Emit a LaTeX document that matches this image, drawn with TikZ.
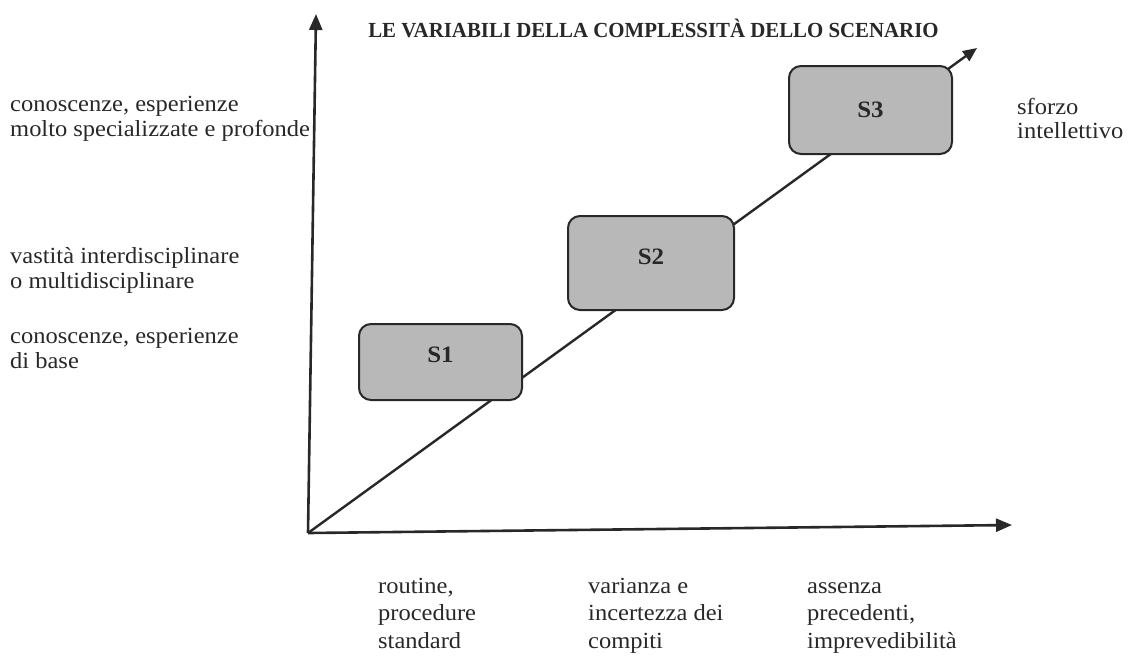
\documentclass[tikz,border=0pt]{standalone}
\usepackage{fontspec}
\setmainfont[FakeStretch=1.06]{Liberation Serif}
\newfontfamily\titlefam[FakeStretch=0.97]{Liberation Serif}
\usetikzlibrary{arrows.meta}
\definecolor{boxgray}{RGB}{184,184,184}
\definecolor{inkgray}{RGB}{40,40,40}
\begin{document}
\begin{tikzpicture}[x=1pt,y=-1pt,
  axis/.style={line width=2.6pt, draw=inkgray, -{Triangle[length=16pt,width=13pt]}},
  diag/.style={line width=2.4pt, draw=inkgray, -{Triangle[length=14pt,width=12pt]}},
  stepbox/.style={draw=inkgray, line width=2pt, fill=boxgray, rounded corners=12pt,
    inner sep=0pt, font=\bfseries\fontsize{23.5}{23.5}\selectfont, text=inkgray},
  lbl/.style={anchor=base west, align=left, inner sep=0pt, text=inkgray,
    font=\fontsize{23.1}{24.5}\selectfont},
  lblb/.style={lbl, font=\fontsize{23.1}{27.5}\selectfont},
  titlefont/.style={font=\titlefam\bfseries\fontsize{21.5}{21.5}\selectfont, text=inkgray, inner sep=0pt}
]
\useasboundingbox (0,0) rectangle (1129,657);
\fill[white] (0,0) rectangle (1129,657);

\coordinate (O) at (308,533);
\coordinate (ytip) at (316,14);
\coordinate (xtip) at (1012,525);
\coordinate (dtip) at (977,48);

\draw[axis] (O) -- (ytip);
\draw[axis] (O) -- (xtip);
\draw[diag] (O) -- (dtip);

\node[stepbox, minimum width=163pt, minimum height=76pt, text depth=14pt] (s1) at (440.5,362) {S1};
\node[stepbox, minimum width=166pt, minimum height=94pt, text depth=12pt] (s2) at (651,263) {S2};
\node[stepbox, minimum width=163pt, minimum height=88pt] (s3) at (870.5,110) {S3};

\node[titlefont, anchor=base] (title) at (653.5,37) {LE VARIABILI DELLA COMPLESSITÀ DELLO SCENARIO};

% base anchor of a multi-line node = baseline of its last line
\node[lbl] (l1) at (10,136) {conoscenze, esperienze\\molto specializzate e profonde};
\node[lbl] (l2) at (10,288) {vastità interdisciplinare\\o multidisciplinare};
\node[lbl] (l3) at (10,368) {conoscenze, esperienze\\di base};
\node[lbl] (l4) at (1017,138.5) {sforzo\\intellettivo};

\node[lblb] (b1) at (378,648) {routine,\\procedure\\standard};
\node[lblb] (b2) at (588,648) {varianza e\\incertezza dei\\compiti};
\node[lblb] (b3) at (807,648) {assenza\\precedenti,\\imprevedibilità};
\end{tikzpicture}
\end{document}
